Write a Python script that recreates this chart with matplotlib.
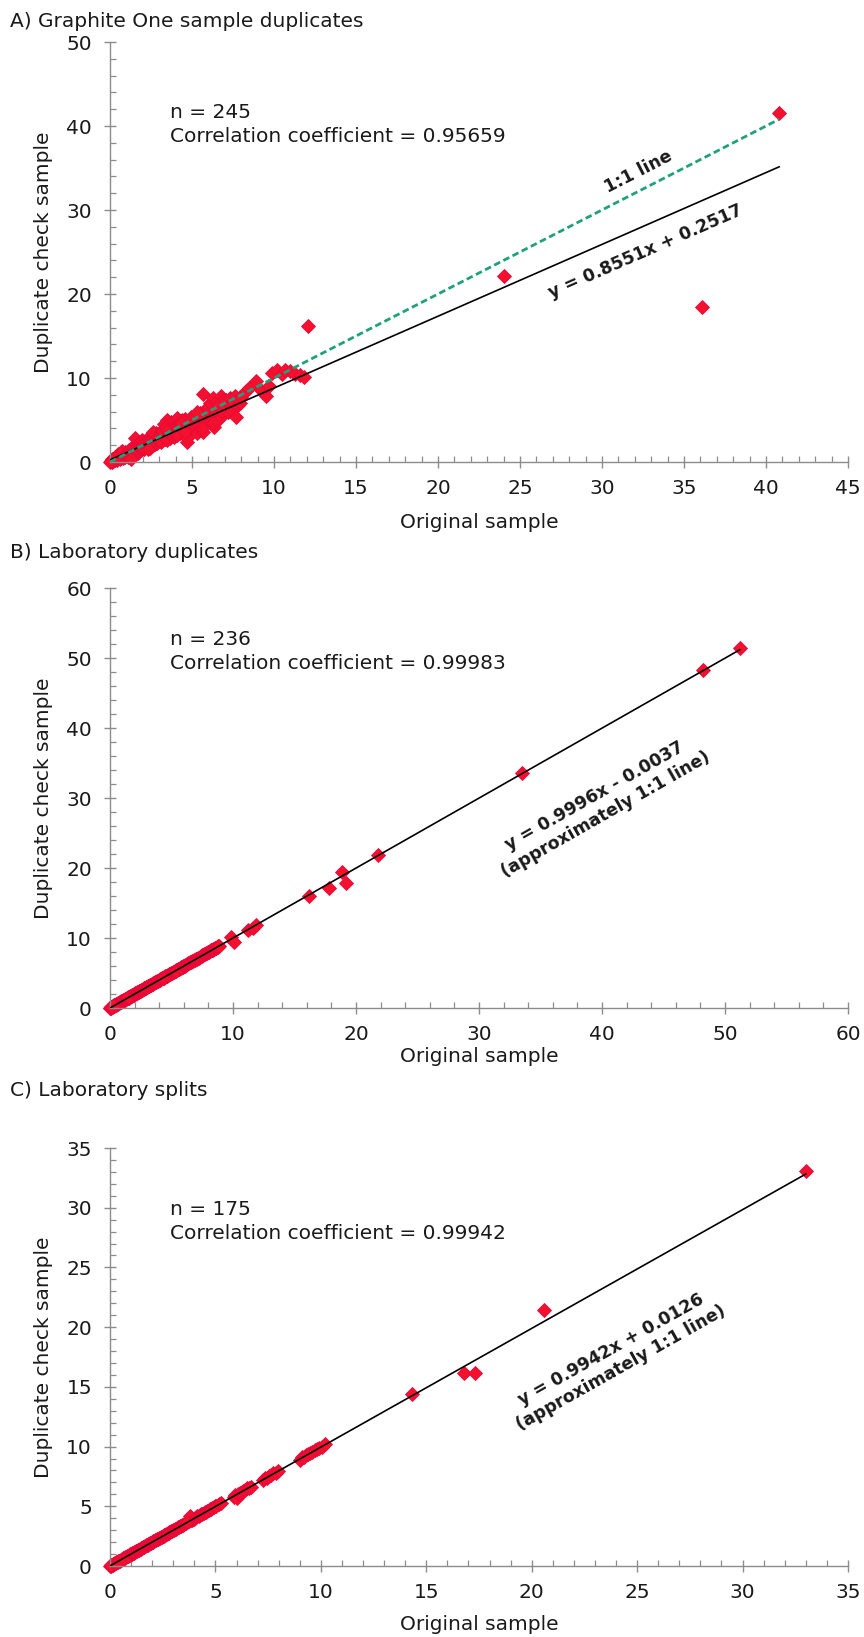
import numpy as np
import matplotlib
matplotlib.use("Agg")
import matplotlib.pyplot as plt
from matplotlib.ticker import MultipleLocator

plt.rcParams['font.family'] = ['DejaVu Sans']

# ---------------- A) Graphite One sample duplicates ----------------
a_orig = [
    0.05, 0.08, 0.1, 0.12, 0.15, 0.18, 0.2, 0.22, 0.25, 0.28, 0.3, 0.32, 0.35, 0.38, 0.4, 0.42, 0.45, 0.48, 0.5, 0.52,
    0.55, 0.58, 0.6, 0.62, 0.65, 0.68, 0.7, 0.72, 0.75, 0.78, 0.8, 0.82, 0.85, 0.88, 0.9, 0.92, 0.95, 0.98,
    0.1, 0.2, 0.3, 0.4, 0.5, 0.6, 0.7, 0.8, 0.9, 0.15, 0.45, 0.75,
    1.02, 1.05, 1.08, 1.1, 1.12, 1.15, 1.18, 1.2, 1.22, 1.25, 1.28, 1.3, 1.32, 1.35, 1.38, 1.4, 1.42, 1.45, 1.48, 1.5,
    1.52, 1.55, 1.58, 1.6, 1.62, 1.65, 1.68, 1.7, 1.72, 1.75, 1.78, 1.8, 1.82, 1.85, 1.88, 1.9, 1.92, 1.95, 1.98, 1.25,
    2.02, 2.05, 2.08, 2.1, 2.15, 2.18, 2.2, 2.25, 2.28, 2.3, 2.35, 2.38, 2.4, 2.45, 2.48, 2.5, 2.52, 2.55, 2.6, 2.62,
    2.65, 2.7, 2.72, 2.75, 2.78, 2.8, 2.82, 2.85, 2.88, 2.9, 2.92, 2.95, 2.98, 2.3, 2.6,
    3.02, 3.05, 3.1, 3.15, 3.2, 3.25, 3.3, 3.35, 3.4, 3.45, 3.5, 3.55, 3.6, 3.65, 3.7, 3.75, 3.8, 3.85, 3.9, 3.95,
    3.1, 3.3, 3.5, 3.7, 3.9, 3.2, 3.4, 3.6, 3.8, 3.5,
    4.02, 4.05, 4.1, 4.15, 4.2, 4.25, 4.3, 4.35, 4.4, 4.45, 4.5, 4.55, 4.6, 4.65, 4.7, 4.75, 4.8, 4.85, 4.9, 4.95,
    4.1, 4.4, 4.7, 4.3, 4.6,
    5.05, 5.1, 5.2, 5.25, 5.3, 5.4, 5.45, 5.5, 5.6, 5.65, 5.7, 5.75, 5.8, 5.85, 5.9, 5.95, 5.3, 5.6,
    6.05, 6.1, 6.2, 6.3, 6.35, 6.4, 6.5, 6.55, 6.6, 6.7, 6.75, 6.8, 6.9, 6.95, 6.3,
    7.05, 7.1, 7.2, 7.3, 7.35, 7.4, 7.5, 7.6, 7.7, 7.8, 7.9, 7.95,
    8.0, 8.3, 8.5, 8.9, 9.2, 9.5, 9.7,
    9.9, 10.2, 10.5, 10.7, 11.0, 11.3, 11.6, 11.8,
    12.1, 24.0, 36.1, 40.8, 0.02,
]
a_dup = [
    0.06, 0.1, 0.14, 0.1, 0.2, 0.15, 0.25, 0.3, 0.2, 0.35, 0.4, 0.28, 0.45, 0.3, 0.5, 0.38, 0.6, 0.42, 0.55, 0.65,
    0.5, 0.7, 0.48, 0.8, 0.6, 0.75, 0.9, 0.62, 0.85, 0.7, 1.0, 0.75, 1.1, 0.8, 0.95, 1.2, 0.85, 1.05,
    0.3, 0.1, 0.6, 0.2, 0.9, 0.3, 1.2, 0.5, 0.6, 0.05, 0.75, 1.3,
    1.1, 0.9, 1.3, 0.6, 1.2, 1.4, 0.8, 1.5, 1.0, 1.3, 0.7, 1.6, 1.1, 1.4, 1.2, 1.8, 0.9, 1.5, 1.3, 2.9,
    1.6, 1.2, 1.7, 1.4, 2.0, 1.5, 1.1, 1.8, 1.6, 2.2, 1.3, 1.9, 1.7, 2.4, 1.5, 2.1, 1.8, 2.6, 1.9, 0.4,
    2.1, 1.8, 2.4, 1.6, 2.3, 2.0, 2.6, 1.9, 2.5, 2.2, 3.0, 2.1, 2.7, 1.7, 2.4, 2.9, 2.2, 2.6, 3.3, 2.0,
    2.8, 2.4, 3.1, 2.2, 2.7, 3.4, 2.5, 2.9, 2.3, 3.2, 2.6, 3.0, 2.8, 1.5, 3.6,
    3.2, 2.6, 3.5, 2.9, 3.8, 3.0, 3.4, 2.7, 3.9, 3.1, 5.0, 3.3, 4.1, 2.8, 3.6, 4.4, 3.2, 3.9, 3.5, 4.7,
    2.4, 4.5, 2.6, 4.8, 3.0, 3.7, 4.2, 3.4, 4.0, 3.8,
    4.3, 3.7, 5.2, 4.0, 4.6, 3.5, 4.9, 4.1, 4.4, 3.8, 4.7, 4.2, 5.1, 3.9, 2.4, 4.5, 3.6, 4.8, 4.2, 5.3,
    3.2, 5.0, 2.8, 4.6, 3.6,
    5.2, 4.6, 5.5, 4.2, 3.4, 5.0, 4.4, 5.8, 4.9, 3.6, 8.1, 5.3, 6.2, 4.8, 5.6, 6.5, 6.0, 4.0,
    5.9, 7.0, 5.4, 7.6, 4.2, 6.4, 7.3, 5.8, 6.8, 5.2, 7.9, 6.1, 7.4, 6.6, 4.6,
    6.5, 7.4, 5.9, 7.6, 6.9, 6.2, 7.2, 7.9, 5.4, 6.8, 7.7, 7.0,
    7.7, 8.4, 8.8, 9.7, 8.6, 7.9, 9.0,
    10.6, 10.9, 10.5, 11.0, 10.8, 10.5, 10.3, 10.1,
    16.2, 22.2, 18.5, 41.5, 0.04,
]
a_n, a_r = 245, "0.95659"
a_slope, a_icpt = 0.8551, 0.2517

# ---------------- B) Laboratory duplicates ----------------
b_orig = [
    0.02, 0.04, 0.06, 0.08, 0.1, 0.12, 0.14, 0.16, 0.18, 0.2, 0.22, 0.24, 0.26, 0.28, 0.3, 0.32, 0.34, 0.36, 0.38, 0.4,
    0.42, 0.45, 0.48, 0.5, 0.52, 0.55, 0.58, 0.6, 0.62, 0.65, 0.68, 0.7, 0.72, 0.75, 0.78, 0.8, 0.82, 0.85, 0.88, 0.9,
    0.92, 0.95, 0.98, 0.15, 0.35,
    1.0, 1.03, 1.06, 1.09, 1.12, 1.15, 1.18, 1.21, 1.24, 1.27, 1.3, 1.33, 1.36, 1.39, 1.42, 1.45, 1.48, 1.51, 1.54, 1.57,
    1.6, 1.63, 1.66, 1.69, 1.72, 1.75, 1.78, 1.81, 1.84, 1.87, 1.9, 1.93, 1.96, 1.99, 1.5,
    2.0, 2.03, 2.07, 2.1, 2.13, 2.17, 2.2, 2.23, 2.27, 2.3, 2.33, 2.37, 2.4, 2.43, 2.47, 2.5, 2.53, 2.57, 2.6, 2.63,
    2.67, 2.7, 2.73, 2.77, 2.8, 2.83, 2.87, 2.9, 2.93, 2.97,
    3.0, 3.04, 3.08, 3.12, 3.16, 3.2, 3.24, 3.28, 3.32, 3.36, 3.4, 3.44, 3.48, 3.52, 3.56, 3.6, 3.64, 3.68, 3.72, 3.76,
    3.8, 3.84, 3.88, 3.92, 3.96,
    4.0, 4.05, 4.1, 4.15, 4.2, 4.25, 4.3, 4.35, 4.4, 4.45, 4.5, 4.55, 4.6, 4.65, 4.7, 4.75, 4.8, 4.85, 4.9, 4.95,
    4.3, 4.7,
    5.0, 5.05, 5.1, 5.2, 5.25, 5.3, 5.4, 5.45, 5.5, 5.6, 5.65, 5.7, 5.8, 5.85, 5.9, 5.95, 5.35, 5.75,
    6.0, 6.06, 6.12, 6.2, 6.25, 6.3, 6.38, 6.45, 6.5, 6.56, 6.62, 6.7, 6.75, 6.82, 6.9, 6.96,
    7.0, 7.08, 7.15, 7.22, 7.3, 7.38, 7.45, 7.52, 7.6, 7.68, 7.75, 7.82, 7.9, 7.96,
    8.0, 8.05, 8.1, 8.15, 8.2, 8.25, 8.3, 8.35, 8.4, 8.45, 8.5, 8.55, 8.6, 8.65, 8.7, 8.75, 8.8, 8.85,
    9.8, 10.05, 11.2, 11.6, 11.9, 16.2, 17.8, 18.9, 19.2, 21.8, 33.5, 48.2, 51.2,
]
b_dup = [
    0.03, 0.05, 0.06, 0.09, 0.1, 0.13, 0.14, 0.17, 0.18, 0.21, 0.22, 0.24, 0.27, 0.28, 0.31, 0.32, 0.35, 0.36, 0.39, 0.4,
    0.43, 0.45, 0.49, 0.5, 0.53, 0.55, 0.59, 0.6, 0.63, 0.65, 0.69, 0.7, 0.73, 0.75, 0.79, 0.8, 0.83, 0.85, 0.89, 0.9,
    0.93, 0.95, 0.99, 0.14, 0.36,
    1.01, 1.02, 1.07, 1.08, 1.13, 1.14, 1.19, 1.2, 1.25, 1.26, 1.31, 1.32, 1.37, 1.38, 1.43, 1.44, 1.49, 1.5, 1.55, 1.56,
    1.61, 1.62, 1.67, 1.68, 1.73, 1.74, 1.79, 1.8, 1.85, 1.86, 1.91, 1.92, 1.97, 1.98, 1.52,
    2.02, 2.02, 2.08, 2.09, 2.15, 2.16, 2.21, 2.22, 2.28, 2.29, 2.35, 2.36, 2.41, 2.42, 2.48, 2.49, 2.55, 2.56, 2.61, 2.62,
    2.68, 2.69, 2.75, 2.76, 2.81, 2.82, 2.88, 2.89, 2.95, 2.96,
    3.02, 3.03, 3.1, 3.11, 3.18, 3.19, 3.26, 3.27, 3.34, 3.35, 3.42, 3.43, 3.5, 3.51, 3.58, 3.59, 3.66, 3.67, 3.74, 3.75,
    3.82, 3.83, 3.9, 3.91, 3.98,
    4.02, 4.04, 4.12, 4.14, 4.22, 4.23, 4.32, 4.33, 4.42, 4.43, 4.52, 4.53, 4.62, 4.63, 4.72, 4.73, 4.82, 4.83, 4.92, 4.93,
    4.28, 4.72,
    5.02, 5.04, 5.12, 5.21, 5.24, 5.32, 5.41, 5.44, 5.52, 5.61, 5.64, 5.72, 5.81, 5.84, 5.92, 5.94, 5.34, 5.76,
    6.02, 6.05, 6.14, 6.21, 6.24, 6.32, 6.39, 6.44, 6.52, 6.55, 6.64, 6.71, 6.74, 6.84, 6.91, 6.95,
    7.02, 7.07, 7.17, 7.21, 7.32, 7.37, 7.47, 7.51, 7.62, 7.67, 7.77, 7.81, 7.92, 7.95,
    8.02, 8.04, 8.12, 8.14, 8.22, 8.24, 8.32, 8.34, 8.42, 8.44, 8.52, 8.54, 8.62, 8.64, 8.72, 8.74, 8.82, 8.84,
    10.2, 9.4, 11.2, 11.5, 11.8, 16.0, 17.2, 19.5, 17.9, 21.9, 33.6, 48.3, 51.4,
]
b_n, b_r = 236, "0.99983"
b_slope, b_icpt = 0.9996, -0.0037

# ---------------- C) Laboratory splits ----------------
c_orig = [
    0.02, 0.04, 0.06, 0.08, 0.1, 0.12, 0.14, 0.16, 0.18, 0.2, 0.22, 0.24, 0.26, 0.28, 0.3,
    0.33, 0.36, 0.4, 0.43, 0.46, 0.5, 0.53, 0.56, 0.6, 0.63, 0.66, 0.7, 0.73, 0.76, 0.8, 0.83, 0.86, 0.9,
    0.93, 0.96, 0.99, 0.05, 0.25, 0.45, 0.65, 0.85,
    1.02, 1.05, 1.08, 1.12, 1.15, 1.18, 1.22, 1.25, 1.28, 1.32, 1.35, 1.38, 1.42, 1.45, 1.48,
    1.52, 1.55, 1.58, 1.62, 1.65, 1.68, 1.72, 1.75, 1.78, 1.82, 1.85, 1.88, 1.92, 1.95, 1.98,
    2.02, 2.06, 2.1, 2.14, 2.18, 2.22, 2.26, 2.3, 2.34, 2.38, 2.42, 2.46, 2.5, 2.54, 2.58,
    2.62, 2.66, 2.7, 2.74, 2.78, 2.82, 2.86, 2.9, 2.94, 2.98,
    3.02, 3.07, 3.12, 3.17, 3.22, 3.27, 3.32, 3.37, 3.42, 3.47, 3.52, 3.57, 3.62, 3.67, 3.72,
    3.77, 3.82, 3.87, 3.92, 3.97, 3.8, 3.65,
    4.02, 4.08, 4.14, 4.2, 4.26, 4.32, 4.38, 4.44, 4.5, 4.56, 4.62, 4.68, 4.74, 4.8, 4.86,
    4.92, 4.98, 5.05, 5.15, 5.25,
    5.9, 5.95, 6.0, 6.05, 6.1, 6.15, 6.25, 6.3, 6.4, 6.5, 6.6, 6.7,
    7.25, 7.35, 7.45, 7.55, 7.65, 7.75, 7.85, 7.95,
    9.0, 9.1, 9.2, 9.3, 9.4, 9.5, 9.6, 9.7, 9.8, 9.9, 10.05, 10.2,
    14.3, 16.8, 17.3, 20.6, 33.0,
]
c_dup = [
    0.03, 0.04, 0.07, 0.08, 0.11, 0.12, 0.15, 0.16, 0.19, 0.2, 0.23, 0.24, 0.27, 0.28, 0.31,
    0.33, 0.37, 0.4, 0.44, 0.46, 0.51, 0.53, 0.57, 0.6, 0.64, 0.66, 0.71, 0.73, 0.77, 0.8, 0.84, 0.86, 0.91,
    0.93, 0.97, 0.99, 0.06, 0.24, 0.46, 0.64, 0.86,
    1.03, 1.05, 1.1, 1.12, 1.16, 1.18, 1.23, 1.25, 1.29, 1.32, 1.36, 1.38, 1.43, 1.45, 1.49,
    1.52, 1.56, 1.58, 1.63, 1.65, 1.69, 1.72, 1.76, 1.78, 1.83, 1.85, 1.89, 1.92, 1.96, 1.98,
    2.03, 2.06, 2.11, 2.14, 2.19, 2.22, 2.27, 2.3, 2.35, 2.38, 2.43, 2.46, 2.51, 2.54, 2.59,
    2.62, 2.67, 2.7, 2.75, 2.78, 2.83, 2.86, 2.91, 2.94, 2.99,
    3.03, 3.07, 3.13, 3.17, 3.23, 3.27, 3.33, 3.37, 3.43, 3.47, 3.53, 3.57, 3.63, 3.67, 3.73,
    3.77, 3.83, 3.87, 3.93, 3.97, 4.2, 3.66,
    4.03, 4.08, 4.15, 4.2, 4.27, 4.32, 4.39, 4.44, 4.51, 4.56, 4.63, 4.68, 4.75, 4.8, 4.87,
    4.92, 4.99, 5.06, 5.16, 5.26,
    5.8, 5.95, 5.7, 6.05, 6.0, 6.15, 6.2, 6.3, 6.35, 6.5, 6.55, 6.65,
    7.2, 7.35, 7.4, 7.55, 7.6, 7.75, 7.8, 7.95,
    8.9, 9.1, 9.1, 9.3, 9.35, 9.5, 9.55, 9.7, 9.8, 9.9, 10.0, 10.25,
    14.4, 16.2, 16.2, 21.4, 33.1,
]
c_n, c_r = 175, "0.99942"
c_slope, c_icpt = 0.9942, 0.0126

# ---------------- layout ----------------
W, H = 864, 1637
fig = plt.figure(figsize=(W / 100, H / 100), dpi=100)
fig.patch.set_facecolor("white")

SPINE = "#8c8c8c"
TXT = "#1a1a1a"
RED = "#F5102E"
GREEN = "#1FA27A"
FS = 14.5
EQ_FS = 12.5


def px_axes(left, top, right, bottom):
    return fig.add_axes([left / W, 1 - bottom / H, (right - left) / W, (bottom - top) / H])


def fig_text(x, y, s, **kw):
    fig.text(x / W, 1 - y / H, s, color=TXT, fontsize=FS, **kw)


def style_axes(ax, xmax, xmaj, xmin, ymax, ymaj, ymin):
    ax.set_xlim(0, xmax)
    ax.set_ylim(0, ymax)
    for side in ("top", "right"):
        ax.spines[side].set_visible(False)
    for side in ("left", "bottom"):
        ax.spines[side].set_color(SPINE)
        ax.spines[side].set_linewidth(1.0)
    ax.xaxis.set_major_locator(MultipleLocator(xmaj))
    ax.xaxis.set_minor_locator(MultipleLocator(xmin))
    ax.yaxis.set_major_locator(MultipleLocator(ymaj))
    ax.yaxis.set_minor_locator(MultipleLocator(ymin))
    ax.tick_params(which="major", direction="inout", length=8, width=1.0, color=SPINE,
                   labelsize=FS, labelcolor=TXT)
    ax.tick_params(axis="x", which="major", pad=8)
    ax.tick_params(axis="y", which="major", pad=9)
    ax.tick_params(which="minor", direction="in", length=4, width=0.9, color=SPINE)
    ax.set_facecolor("none")


def line_label(ax, slope, icpt, xc, offset, text):
    # rotated bold text parallel to a line, shifted perpendicular to it by `offset` pixels
    p0 = ax.transData.transform((xc, slope * xc + icpt))
    p1 = ax.transData.transform((xc + 1, slope * (xc + 1) + icpt))
    ang = np.arctan2(p1[1] - p0[1], p1[0] - p0[0])
    normal = np.array([-np.sin(ang), np.cos(ang)])
    pos = ax.transData.inverted().transform(p0 + offset * normal)
    ax.text(pos[0], pos[1], text, rotation=np.degrees(ang), rotation_mode="anchor",
            ha="center", va="center", fontsize=EQ_FS, fontweight="bold", color=TXT,
            multialignment="center", linespacing=1.2, zorder=5)


def panel(box, x, y, slope, icpt, limits, n, r, n_base, one_to_one, eq_xc, eq_off, eq_text):
    ax = px_axes(*box)
    style_axes(ax, *limits)
    ax.plot(x, y, linestyle="none", marker="D", markersize=7.4, markerfacecolor=RED,
            markeredgecolor="#E8083A", markeredgewidth=0.6, zorder=2, clip_on=False)
    xs = np.array([0.0, max(x)])
    ax.plot(xs, slope * xs + icpt, color="black", lw=1.2, zorder=4)
    if one_to_one:
        ax.plot(xs, xs, color=GREEN, lw=2.0, linestyle=(0, (2.4, 1.3)), zorder=4)
    line_label(ax, slope, icpt, eq_xc, eq_off, eq_text)
    fig_text(170, n_base, f"n = {n}", va="baseline")
    fig_text(170, n_base + 24, f"Correlation coefficient = {r}", va="baseline")
    fig_text(44, (box[1] + box[3]) / 2, "Duplicate check sample", rotation=90,
             ha="center", va="center")
    return ax


# A
axA = panel((110, 42, 848, 462), a_orig, a_dup, a_slope, a_icpt, (45, 5, 1, 50, 10, 2),
            a_n, a_r, 118, True, 32.1, -24, f"y = {a_slope}x + {a_icpt}")
line_label(axA, 1.0, 0.0, 32.7, 18, "1:1 line")
fig_text(10, 27, "A) Graphite One sample duplicates", va="baseline")
fig_text(479, 522, "Original sample", ha="center", va="center")

# B
axB = panel((110, 588, 848, 1008), b_orig, b_dup, b_slope, b_icpt, (60, 10, 2, 60, 10, 2),
            b_n, b_r, 645, False, 37.2, -66,
            f"y = {b_slope}x - {abs(b_icpt)}\n(approximately 1:1 line)")
fig_text(10, 553, "B) Laboratory duplicates", ha="left", va="center")
fig_text(479, 1056, "Original sample", ha="center", va="center")

# C
axC = panel((110, 1148, 848, 1566), c_orig, c_dup, c_slope, c_icpt, (35, 5, 1, 35, 5, 1),
            c_n, c_r, 1215, False, 22.4, -68,
            f"y = {c_slope}x + {c_icpt}\n(approximately 1:1 line)")
fig_text(10, 1090, "C) Laboratory splits", ha="left", va="center")
fig_text(479, 1625, "Original sample", ha="center", va="center")

fig.savefig("out.png", dpi=100, facecolor="white")
